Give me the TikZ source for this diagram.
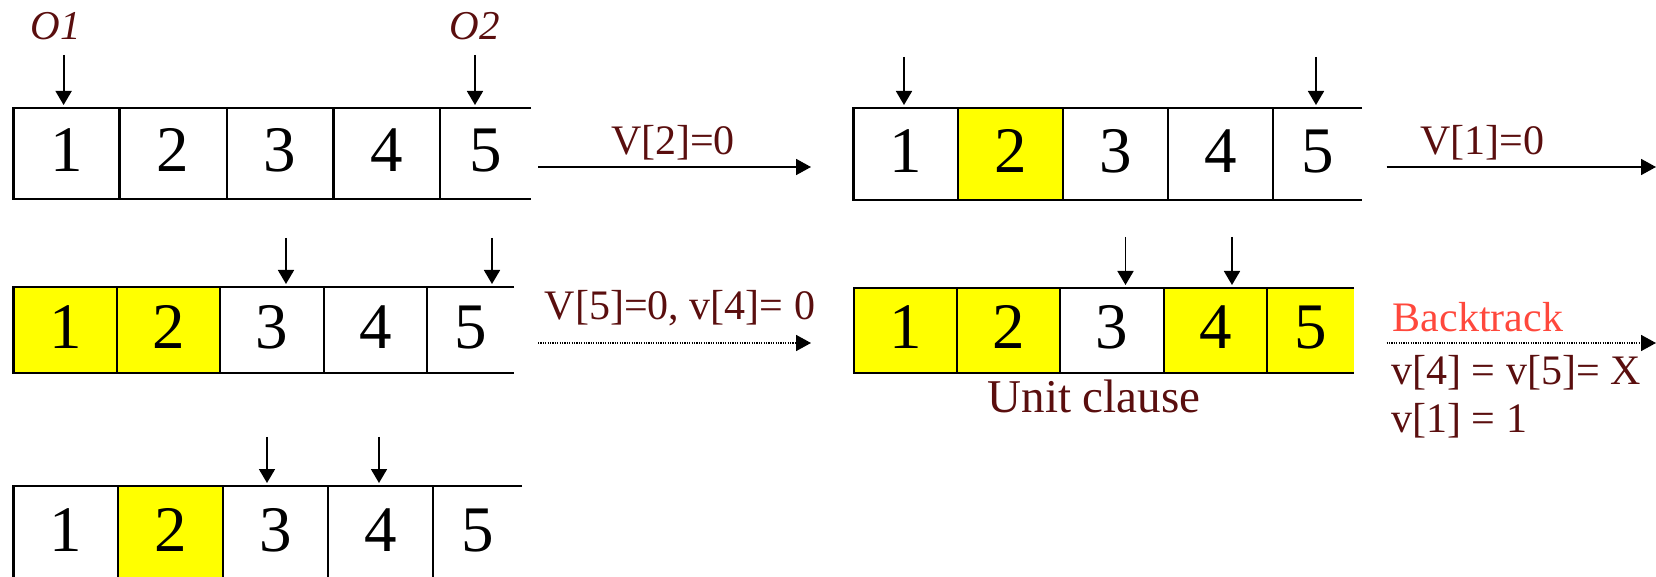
\documentclass[tikz,border=0pt]{standalone}
\usepackage{fontspec}
\setmainfont{Liberation Serif}
\usetikzlibrary{arrows.meta,calc}

\definecolor{labelred}{RGB}{90,14,14}
\definecolor{backred}{RGB}{255,72,60}
\definecolor{hilite}{RGB}{255,255,0}

\tikzset{
  cellnode/.style={draw=none, inner sep=0pt, outer sep=0pt,
    text height=22pt, text depth=3.5pt,
    font=\fontsize{32.5}{36}\selectfont},
  boxline/.style={line width=1.3pt, line join=miter},
  pointer/.style={line width=0.9pt, -{Triangle[length=7pt,width=8pt]}, shorten >=1.5pt},
  stepline/.style={line width=0.9pt, -{Triangle[length=7.5pt,width=8pt]}},
  dotline/.style={line width=0.8pt, dash pattern=on 0.6pt off 0.6pt,
    -{Triangle[length=7.5pt,width=8pt]}},
  steplabel/.style={anchor=base, inner sep=0pt, text=labelred,
    font=\fontsize{21}{25}\selectfont},
  ptrlabel/.style={anchor=base, inner sep=0pt, text=labelred,
    font=\fontsize{20.5}{24}\selectfont\itshape},
}

% one cell of an array: name, left x, right x, top y, bottom y, fill, digit
\newcommand\cellat[7]{%
  \pgfmathsetmacro\cellw{(#3-#2)*0.5}%
  \pgfmathsetmacro\cellh{(#5-#4)*0.5}%
  \node[cellnode, fill=#6, minimum width=\cellw pt, minimum height=\cellh pt]
    (#1) at ({(#2+#3)/2},{(#4+#5)/2}) {#7};%
}
% outline of an array: open on the right, with cell dividers
\newcommand\rowframe[1]{%
  \draw[boxline] (#15.north east) -- (#11.north west) -- (#11.south west) -- (#15.south east);
  \foreach \k in {1,...,4} {\draw[boxline] (#1\k.north east) -- (#1\k.south east);}
}

\begin{document}
\begin{tikzpicture}[x=0.5pt,y=-0.5pt]
\useasboundingbox (0,0) rectangle (1656,577);

% ---------- array A ----------
\cellat{a1}{13.6}{119.6}{108}{199}{white}{1}
\cellat{a2}{119.6}{226.8}{108}{199}{white}{2}
\cellat{a3}{226.8}{333.2}{108}{199}{white}{3}
\cellat{a4}{333.2}{440}{108}{199}{white}{4}
\cellat{a5}{440}{531}{108}{199}{white}{5}
\rowframe{a}
\node[ptrlabel] (o1) at (56,40) {O1};
\node[ptrlabel] (o2) at (475,40) {O2};
\coordinate (pa1) at (63.6,55);
\coordinate (pa2) at (475,55);
\draw[pointer] (pa1) -- (pa1 |- a1.north);
\draw[pointer] (pa2) -- (pa2 |- a5.north);

% step A -> B
\coordinate (s1a) at (538,167);
\coordinate (s1b) at (811,167);
\draw[stepline] (s1a) -- (s1b);
\node[steplabel] (l1) at (673,155) {V[2]=0};

% ---------- array B ----------
\cellat{b1}{853.7}{958}{108}{200}{white}{1}
\cellat{b2}{958}{1063}{108}{200}{hilite}{2}
\cellat{b3}{1063}{1168}{108}{200}{white}{3}
\cellat{b4}{1168}{1273}{108}{200}{white}{4}
\cellat{b5}{1273}{1362}{108}{200}{white}{5}
\rowframe{b}
\coordinate (pb1) at (904,57);
\coordinate (pb2) at (1316,57);
\draw[pointer] (pb1) -- (pb1 |- b1.north);
\draw[pointer] (pb2) -- (pb2 |- b5.north);

% step B -> next
\coordinate (s2a) at (1386.5,167);
\coordinate (s2b) at (1656,167);
\draw[stepline] (s2a) -- (s2b);
\node[steplabel] (l2) at (1482,155) {V[1]=0};

% ---------- array C ----------
\cellat{c1}{13.6}{117}{287}{373}{hilite}{1}
\cellat{c2}{117}{220}{287}{373}{hilite}{2}
\cellat{c3}{220}{324}{287}{373}{white}{3}
\cellat{c4}{324}{427}{287}{373}{white}{4}
\cellat{c5}{427}{514}{287}{373}{white}{5}
\rowframe{c}
\coordinate (pc1) at (286,238);
\coordinate (pc2) at (492,238);
\draw[pointer] (pc1) -- (pc1 |- c3.north);
\draw[pointer] (pc2) -- (pc2 |- c5.north);

% step C -> D
\coordinate (s3a) at (538,343);
\coordinate (s3b) at (811,343);
\draw[dotline] (s3a) -- (s3b);
\node[steplabel] (l3) at (680,320) {V[5]=0, v[4]= 0};

% ---------- array D ----------
\cellat{d1}{854}{957}{288}{373}{hilite}{1}
\cellat{d2}{957}{1060}{288}{373}{hilite}{2}
\cellat{d3}{1060}{1164}{288}{373}{white}{3}
\cellat{d4}{1164}{1267}{288}{373}{hilite}{4}
\cellat{d5}{1267}{1354}{288}{373}{hilite}{5}
\rowframe{d}
\coordinate (pd1) at (1125.5,237);
\coordinate (pd2) at (1232,237);
\draw[pointer] (pd1) -- (pd1 |- d3.north);
\draw[pointer] (pd2) -- (pd2 |- d4.north);
\node[steplabel, font=\fontsize{23.5}{28}\selectfont] (unit) at (1094,413) {Unit clause};

% backtrack step
\coordinate (s4a) at (1386.5,343);
\coordinate (s4b) at (1656,343);
\draw[dotline] (s4a) -- (s4b);
\node[steplabel, anchor=base west, text=backred] (bt) at (1392.5,332) {Backtrack};
\node[steplabel, anchor=base west] (bt1) at (1391,385) {v[4] = v[5]= X};
\node[steplabel, anchor=base west] (bt2) at (1391,433) {v[1] = 1};

% ---------- array E ----------
\cellat{e1}{13.6}{118}{486}{580}{white}{1}
\cellat{e2}{118}{223}{486}{580}{hilite}{2}
\cellat{e3}{223}{328}{486}{580}{white}{3}
\cellat{e4}{328}{433}{486}{580}{white}{4}
\cellat{e5}{433}{522}{486}{580}{white}{5}
\rowframe{e}
\coordinate (pe1) at (267,437);
\coordinate (pe2) at (379,437);
\draw[pointer] (pe1) -- (pe1 |- e3.north);
\draw[pointer] (pe2) -- (pe2 |- e4.north);
\end{tikzpicture}
\end{document}
